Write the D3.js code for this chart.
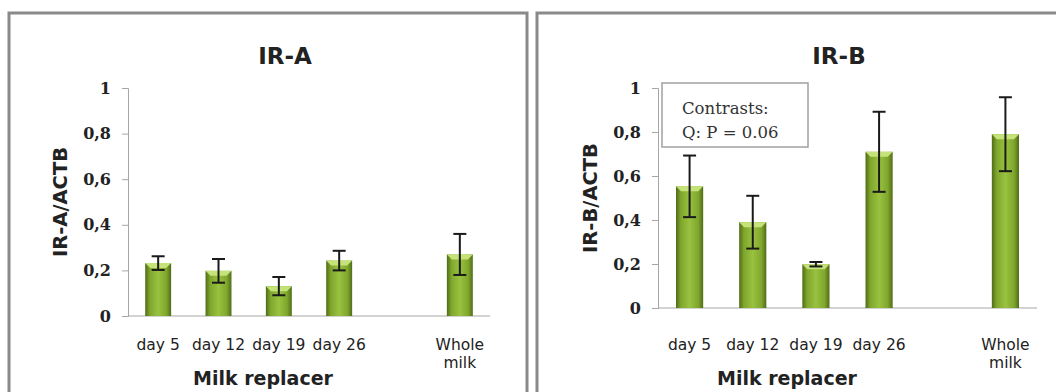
<!DOCTYPE html>
<html>
<head>
<meta charset="utf-8">
<script src="https://cdn.jsdelivr.net/npm/d3@7"></script>
<style>
  body { margin: 0; background: #fff; }
  svg { display: block; }
</style>
</head>
<body>
<div id="chart"></div>
<script>
// categories (an empty slot sits between day 26 and whole milk)
var categories = ["day 5", "day 12", "day 19", "day 26", "", "Whole milk"];
var tickValues = [0, 0.2, 0.4, 0.6, 0.8, 1];

var irA = [0.232, 0.198, 0.131, 0.243, null, 0.270];
var irAErr = [0.030, 0.052, 0.040, 0.043, null, 0.090];

var irB = [0.553, 0.390, 0.199, 0.710, null, 0.790];
var irBErr = [0.140, 0.120, 0.010, 0.182, null, 0.168];

var svg = d3.select("#chart").append("svg")
    .attr("width", 1056)
    .attr("height", 392);

var defs = svg.append("defs");
var grad = defs.append("linearGradient")
    .attr("id", "barGrad")
    .attr("x1", "0%").attr("x2", "100%")
    .attr("y1", "0%").attr("y2", "0%");
grad.append("stop").attr("offset", "0%").attr("stop-color", "#4f6d17");
grad.append("stop").attr("offset", "18%").attr("stop-color", "#80a62d");
grad.append("stop").attr("offset", "50%").attr("stop-color", "#98c23f");
grad.append("stop").attr("offset", "82%").attr("stop-color", "#80a62d");
grad.append("stop").attr("offset", "100%").attr("stop-color", "#4f6d17");

var sans = "'DejaVu Sans', sans-serif";
var serif = "'DejaVu Serif', serif";

function drawPanel(p) {
  var g = svg.append("g");

  // panel frame
  g.append("rect")
    .attr("x", p.frameX).attr("y", 13)
    .attr("width", p.frameW).attr("height", 400)
    .style("fill", "#fff")
    .style("stroke", "#8a8a8a")
    .style("stroke-width", 3);

  var x = d3.scaleBand()
    .domain(d3.range(categories.length))
    .range([p.left, p.right])
    .paddingInner(0.57)
    .paddingOuter(0.285);

  var y = d3.scaleLinear()
    .domain([0, 1])
    .range([p.bottom, 88]);

  // title
  g.append("text")
    .attr("x", p.titleX).attr("y", 64)
    .attr("text-anchor", "middle")
    .style("font", "bold 23px " + sans)
    .style("fill", "#222")
    .text(p.title);

  // y axis
  var yAxis = g.append("g")
    .attr("transform", "translate(" + p.left + ",0)")
    .call(d3.axisLeft(y).tickValues(tickValues).tickSize(6).tickPadding(11)
      .tickFormat(function(d) { return d === 0 || d === 1 ? d : String(d).replace(".", ","); }));
  yAxis.select(".domain").style("stroke", "#a6a6a6");
  yAxis.selectAll(".tick line").style("stroke", "#a6a6a6");
  yAxis.selectAll("text")
    .style("font", "bold 16px " + serif)
    .style("fill", "#222");

  // x axis line
  g.append("line")
    .attr("x1", p.left).attr("x2", p.right)
    .attr("y1", y(0)).attr("y2", y(0))
    .style("stroke", "#a6a6a6");

  // y axis label
  g.append("text")
    .attr("transform", "translate(" + p.yLabelX + "," + p.yLabelY + ") rotate(-90)")
    .attr("text-anchor", "middle")
    .style("font", "bold 19.5px " + sans)
    .style("fill", "#222")
    .text(p.yLabel);

  var data = categories.map(function(c, i) {
    return {i: i, name: c, v: p.values[i], e: p.errors[i]};
  }).filter(function(d) { return d.v !== null; });

  // bars
  var bars = g.selectAll(".bar").data(data).enter().append("g");
  bars.append("rect")
    .attr("x", function(d) { return x(d.i); })
    .attr("y", function(d) { return y(d.v); })
    .attr("width", x.bandwidth())
    .attr("height", function(d) { return y(0) - y(d.v); })
    .style("fill", "url(#barGrad)");
  // light bevel on top of bars
  bars.append("path")
    .attr("d", function(d) {
      var x0 = x(d.i), w = x.bandwidth(), y0 = y(d.v);
      return "M" + x0 + "," + y0 + "L" + (x0 + w) + "," + y0 +
        "L" + (x0 + w - 5) + "," + (y0 + 5) + "L" + (x0 + 5) + "," + (y0 + 5) + "Z";
    })
    .style("fill", "#c6e37a");

  // error bars
  var err = g.selectAll(".err").data(data).enter().append("g")
    .style("stroke", "#1a1a1a")
    .style("stroke-width", 2);
  err.append("line")
    .attr("x1", function(d) { return x(d.i) + x.bandwidth() / 2; })
    .attr("x2", function(d) { return x(d.i) + x.bandwidth() / 2; })
    .attr("y1", function(d) { return y(d.v + d.e); })
    .attr("y2", function(d) { return y(d.v - d.e); });
  [1, -1].forEach(function(s) {
    err.append("line")
      .attr("x1", function(d) { return x(d.i) + x.bandwidth() / 2 - 6.5; })
      .attr("x2", function(d) { return x(d.i) + x.bandwidth() / 2 + 6.5; })
      .attr("y1", function(d) { return y(d.v + s * d.e); })
      .attr("y2", function(d) { return y(d.v + s * d.e); });
  });

  // category labels
  var labels = g.selectAll(".cat").data(data).enter().append("text")
    .attr("x", function(d) { return x(d.i) + x.bandwidth() / 2; })
    .attr("y", 350)
    .attr("text-anchor", "middle")
    .style("font", "15.5px " + sans)
    .style("fill", "#222");
  labels.each(function(d) {
    var words = d.name === "Whole milk" ? ["Whole", "milk"] : [d.name];
    var t = d3.select(this);
    words.forEach(function(w, k) {
      t.append("tspan")
        .attr("x", x(d.i) + x.bandwidth() / 2)
        .attr("dy", k === 0 ? 0 : 18)
        .text(w);
    });
  });

  // x axis title
  g.append("text")
    .attr("x", p.xTitleX).attr("y", 385)
    .attr("text-anchor", "middle")
    .style("font", "bold 19px " + sans)
    .style("fill", "#222")
    .text("Milk replacer");

  return {x: x, y: y, g: g};
}

drawPanel({
  frameX: 9, frameW: 518, left: 128, right: 490, bottom: 316,
  title: "IR-A", titleX: 285, yLabel: "IR-A/ACTB", yLabelX: 67, yLabelY: 202,
  xTitleX: 263, values: irA, errors: irAErr
});

var right = drawPanel({
  frameX: 537, frameW: 540, left: 658, right: 1037, bottom: 308,
  title: "IR-B", titleX: 839, yLabelX: 597, yLabelY: 198, yLabel: "IR-B/ACTB",
  xTitleX: 787, values: irB, errors: irBErr
});

// contrasts box
var box = right.g.append("g");
box.append("rect")
  .attr("x", 662).attr("y", 83)
  .attr("width", 146).attr("height", 64)
  .style("fill", "#fff")
  .style("stroke", "#a0a0a0")
  .style("stroke-width", 1.5);
box.append("text")
  .attr("x", 682).attr("y", 114)
  .style("font", "16.5px " + serif)
  .style("fill", "#333")
  .text("Contrasts:");
box.append("text")
  .attr("x", 682).attr("y", 138)
  .style("font", "16.5px " + serif)
  .style("fill", "#333")
  .text("Q: P = 0.06");
</script>
</body>
</html>
